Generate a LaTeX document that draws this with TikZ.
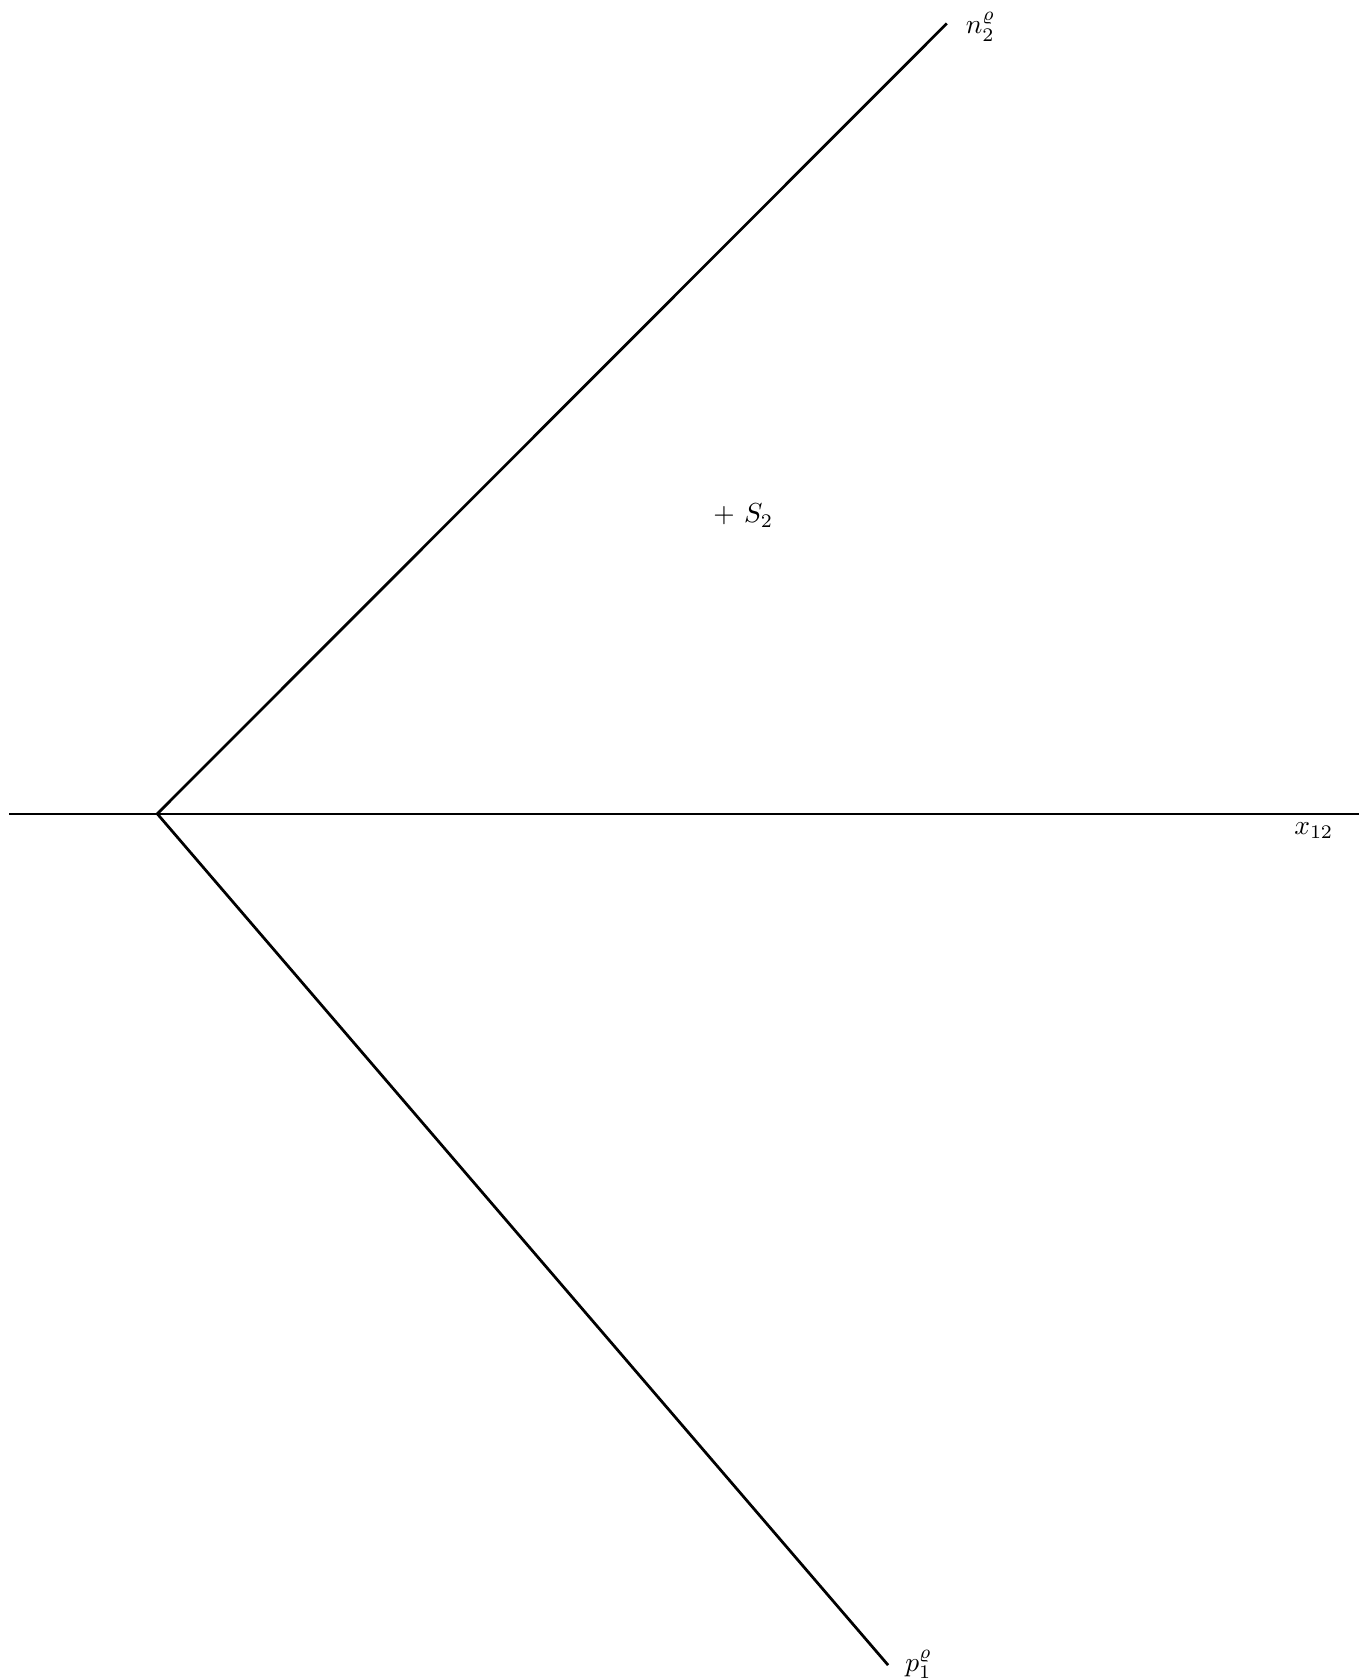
\documentclass[tikz,border=0pt]{standalone}
\begin{document}
\begin{tikzpicture}[x=1cm, y=1cm, line join=miter]
    \useasboundingbox (-2.01,-11.07) rectangle (15.36,10.40);
    \coordinate (o) at (0,0);
    \coordinate (xl) at (-1.89,0); \coordinate (xr) at (15.36,0);
    \coordinate (n2) at (10.09,10.10); \coordinate (p1) at (9.34,-10.88);
    \draw[line width=0.7pt] (xl) -- (xr);
    \draw[line width=1pt] (n2) -- (o) -- (p1);
    \node (n2lab) at (10.52,10.06) {$n_2^\varrho$};
    \node (p1lab) at (9.73,-10.87) {$p_1^\varrho$};
    \node (xlab) at (14.78,-0.22) {$x_{12}$};
    \node (s2) at (7.49,3.81) {$+$ $S_2$};
\end{tikzpicture}
\end{document}
